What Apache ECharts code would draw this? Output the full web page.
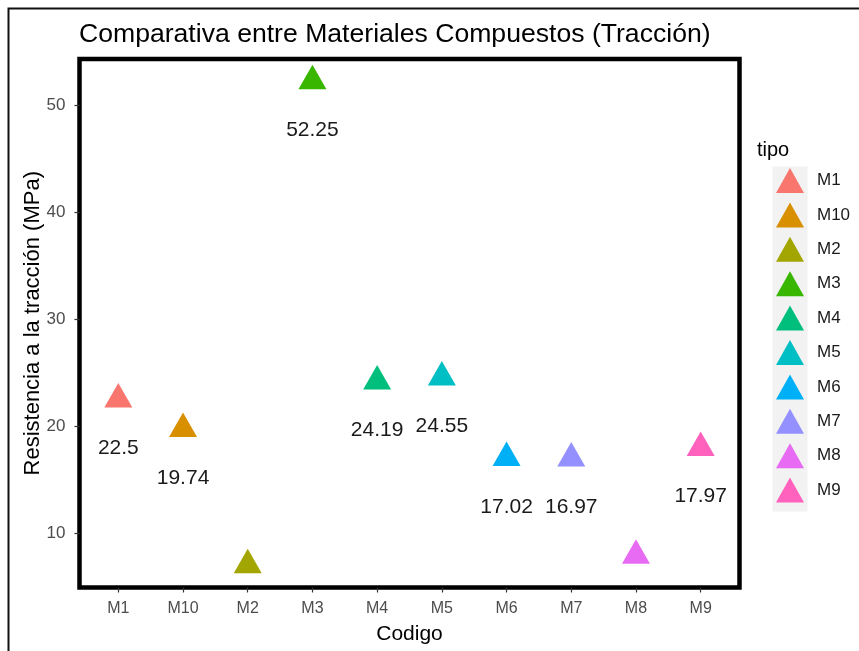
<!DOCTYPE html>
<html>
<head>
<meta charset="utf-8">
<script src="https://cdn.jsdelivr.net/npm/echarts@6/dist/echarts.min.js"></script>
<style>
html,body{margin:0;padding:0;background:#fff;}
#chart{width:859px;height:651px;}
</style>
</head>
<body>
<div id="chart"></div>
<script>
const categories = ['M1','M10','M2','M3','M4','M5','M6','M7','M8','M9'];
const values = [22.5, 19.74, 7.0, 52.25, 24.19, 24.55, 17.02, 16.97, 7.9, 17.97];
const pointLabels = ['22.5','19.74','','52.25','24.19','24.55','17.02','16.97','','17.97'];
const colors = ['#F8766D','#D89000','#A3A500','#39B600','#00BF7D','#00BFC4','#00B0F6','#9590FF','#E76BF3','#FF62BC'];
const yTicks = [10, 20, 30, 40, 50];

const FONT = 'Liberation Sans, Arial, sans-serif';
const chart = echarts.init(document.getElementById('chart'), null, {renderer: 'canvas'});

const series = categories.map((c, i) => ({
  name: c,
  type: 'scatter',
  symbol: 'triangle',
  symbolSize: [28, 24.5],
  symbolOffset: [0, -4],
  itemStyle: {color: colors[i], opacity: 1},
  data: [[i, values[i]]],
  label: {
    show: pointLabels[i] !== '',
    position: 'inside',
    offset: [0, 53],
    formatter: () => pointLabels[i],
    color: '#1a1a1a',
    fontSize: 21,
    fontFamily: FONT
  },
  emphasis: {disabled: true}
}));

chart.setOption({
  animation: false,
  backgroundColor: '#ffffff',
  title: [
    {text: 'Comparativa entre Materiales Compuestos (Tracción)', left: 79, top: 21, padding: 0,
     textStyle: {fontFamily: FONT, fontSize: 26.6, fontWeight: 'normal', color: '#000'}},
    {text: 'tipo', left: 757, top: 140, padding: 0,
     textStyle: {fontFamily: FONT, fontSize: 20, fontWeight: 'normal', color: '#000'}}
  ],
  graphic: [
    {type: 'rect', shape: {x: 8.5, y: 8.5, width: 900, height: 700},
     style: {fill: 'none', stroke: '#111', lineWidth: 2}, z: 100},
    {type: 'rect', shape: {x: 772.5, y: 166.5, width: 35, height: 345},
     style: {fill: '#F2F2F2'}, z: 0}
  ],
  legend: {
    orient: 'vertical',
    left: 776,
    top: 168,
    padding: 0,
    itemWidth: 28,
    itemHeight: 25,
    itemGap: 9.4,
    icon: 'triangle',
    data: categories,
    textStyle: {fontFamily: FONT, fontSize: 17, color: '#1a1a1a', padding: [0, 0, 0, 8]}
  },
  grid: {
    show: true,
    left: 79.5, top: 59, width: 660, height: 528.5,
    borderColor: '#000', borderWidth: 4.5,
    backgroundColor: '#fff',
    containLabel: false
  },
  xAxis: {
    type: 'value',
    min: -0.6, max: 9.6,
    name: 'Codigo',
    nameLocation: 'middle',
    nameGap: 36,
    nameTextStyle: {fontFamily: FONT, fontSize: 21, color: '#000'},
    axisLine: {show: false, onZero: false},
    splitLine: {show: false},
    axisTick: {show: true, length: 5, customValues: categories.map((c, i) => i),
               lineStyle: {color: '#333', width: 1.2}},
    axisLabel: {customValues: categories.map((c, i) => i), formatter: v => categories[v],
                margin: 13, fontFamily: FONT, fontSize: 16, color: '#4D4D4D'}
  },
  yAxis: {
    type: 'value',
    min: 4.9, max: 54.3,
    name: 'Resistencia a la tracción (MPa)',
    nameLocation: 'middle',
    nameGap: 36,
    nameMoveOverlap: false,
    nameTextStyle: {fontFamily: FONT, fontSize: 22, color: '#000'},
    axisLine: {show: false, onZero: false},
    splitLine: {show: false},
    axisTick: {show: true, length: 5, customValues: yTicks, lineStyle: {color: '#333', width: 1.2}},
    axisLabel: {customValues: yTicks, margin: 14, fontFamily: FONT, fontSize: 17, color: '#4D4D4D'}
  },
  series: series
});
</script>
</body>
</html>
